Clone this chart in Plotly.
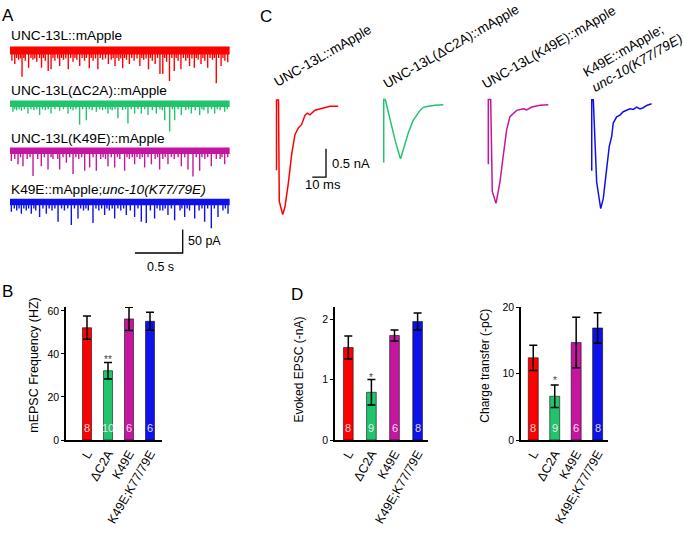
import plotly.graph_objects as go

W, H = 685, 533
FONT = "Liberation Sans, Arial, sans-serif"

# ---------------- DATA ----------------
categories = ["L", "ΔC2A", "K49E", "K49E;K77/79E"]
colors = ["#FF0000", "#21C46C", "#C4169F", "#0E12E8"]

mepsc_freq = [52.2, 32.2, 56.3, 55.2]
mepsc_freq_err = [5.4, 3.8, 5.4, 4.2]
mepsc_n = [8, 10, 6, 6]
mepsc_sig = ["", "**", "", ""]

evoked_amp = [1.53, 0.79, 1.73, 1.96]
evoked_amp_err = [0.19, 0.21, 0.09, 0.14]
evoked_n = [8, 9, 6, 8]
evoked_sig = ["", "*", "", ""]

charge = [12.4, 6.6, 14.7, 16.9]
charge_err = [1.9, 1.7, 3.8, 2.3]
charge_n = [8, 9, 6, 8]
charge_sig = ["", "*", "", ""]

# Panel A: mEPSC traces (event times in s, event depths in pA below baseline)
trace_labels = ["UNC-13L::mApple", "UNC-13L(ΔC2A)::mApple",
                "UNC-13L(K49E)::mApple", "K49E::mApple;<i>unc-10(K77/79E)</i>"]
recording_s = 2.30

red_t = [0.02, 0.05, 0.07, 0.09, 0.11, 0.126, 0.145, 0.16, 0.195, 0.22, 0.24, 0.26, 0.28, 0.31,
         0.33, 0.35, 0.37, 0.40, 0.43, 0.45, 0.47, 0.50, 0.52, 0.54, 0.56, 0.585, 0.61, 0.635,
         0.66, 0.68, 0.70, 0.73, 0.755, 0.78, 0.80, 0.83, 0.85, 0.87, 0.895, 0.92, 0.945, 0.97,
         1.0, 1.03, 1.06, 1.08, 1.10, 1.12, 1.14, 1.16, 1.18, 1.20, 1.22, 1.25, 1.275, 1.30,
         1.33, 1.36, 1.38, 1.40, 1.425, 1.45, 1.47, 1.49, 1.52, 1.545, 1.57, 1.60, 1.62, 1.64,
         1.67, 1.695, 1.72, 1.74, 1.76, 1.79, 1.815, 1.84, 1.86, 1.88, 1.905, 1.93, 1.95, 1.97,
         2.00, 2.02, 2.04, 2.07, 2.095, 2.12, 2.14, 2.16, 2.185, 2.21, 2.23, 2.25, 2.28]
red_d = [22, 29, 16, 20, 17, 56, 16, 22, 37, 16, 20, 17, 24, 16,
         37, 16, 22, 44, 40, 16, 22, 17, 33, 16, 20, 17, 40, 16,
         24, 16, 20, 33, 16, 22, 16, 38, 16, 22, 17, 40, 16, 20,
         17, 29, 20, 16, 33, 16, 22, 17, 38, 16, 20, 29, 16, 22,
         17, 33, 16, 20, 17, 40, 16, 22, 29, 16, 50, 50, 16, 24,
         65, 16, 44, 16, 22, 40, 16, 22, 16, 33, 17, 37, 16, 20,
         29, 16, 22, 37, 16, 20, 16, 70, 16, 33, 16, 22, 25]

green_t = [0.031, 0.05, 0.07, 0.095, 0.119, 0.15, 0.188, 0.22, 0.25, 0.28, 0.31, 0.34, 0.37,
           0.40, 0.43, 0.47, 0.52, 0.56, 0.607, 0.635, 0.66, 0.69, 0.729, 0.76, 0.799, 0.83,
           0.86, 0.904, 0.94, 0.97, 1.0, 1.026, 1.05, 1.07, 1.10, 1.13, 1.18, 1.21, 1.235, 1.27,
           1.305, 1.34, 1.375, 1.41, 1.445, 1.49, 1.532, 1.57, 1.595, 1.62, 1.672, 1.70, 1.724,
           1.76, 1.794, 1.84, 1.87, 1.899, 1.94, 1.986, 2.01, 2.03, 2.073, 2.11, 2.143, 2.17,
           2.20, 2.248, 2.275]
green_d = [17, 12, 14, 12, 15, 12, 21, 12, 14, 12, 24, 12, 14,
           12, 21, 12, 15, 12, 21, 12, 14, 12, 45, 12, 35, 12,
           14, 17, 12, 14, 12, 21, 12, 14, 12, 31, 14, 12, 42, 12,
           21, 12, 21, 12, 24, 14, 21, 12, 14, 35, 59, 12, 35,
           12, 24, 14, 12, 21, 14, 24, 12, 14, 21, 12, 21, 12,
           14, 17, 12]

magenta_t = [0.014, 0.05, 0.084, 0.11, 0.136, 0.18, 0.21, 0.241, 0.29, 0.328, 0.36, 0.398,
             0.43, 0.45, 0.50, 0.52, 0.555, 0.59, 0.625, 0.66, 0.69, 0.72, 0.75, 0.782, 0.834,
             0.87, 0.904, 0.95, 0.975, 1.00, 1.026, 1.06, 1.096, 1.125, 1.15, 1.20, 1.225, 1.25,
             1.28, 1.305, 1.33, 1.36, 1.385, 1.41, 1.445, 1.48, 1.52, 1.545, 1.567, 1.60, 1.625,
             1.654, 1.69, 1.72, 1.76, 1.794, 1.83, 1.864, 1.916, 1.95, 1.986, 2.01, 2.04, 2.07,
             2.108, 2.16, 2.20, 2.22, 2.248, 2.28]
magenta_d = [22, 18, 29, 14, 33, 18, 14, 54, 18, 33, 14, 40,
             14, 18, 18, 40, 14, 26, 14, 50, 14, 18, 14, 43, 36,
             14, 43, 18, 14, 18, 33, 14, 36, 14, 18, 43, 14, 18,
             14, 29, 14, 18, 14, 36, 14, 29, 18, 14, 40, 18, 14,
             29, 14, 18, 14, 33, 14, 40, 55, 14, 43, 14, 18, 14,
             33, 18, 18, 14, 29, 14]

blue_t = [0.014, 0.045, 0.07, 0.095, 0.119, 0.145, 0.17, 0.195, 0.223, 0.25, 0.27, 0.31, 0.345,
          0.38, 0.41, 0.44, 0.47, 0.503, 0.54, 0.57, 0.605, 0.642, 0.675, 0.712, 0.74, 0.77,
          0.795, 0.82, 0.869, 0.90, 0.93, 0.96, 0.991, 1.015, 1.04, 1.07, 1.096, 1.13, 1.16,
          1.19, 1.218, 1.26, 1.305, 1.34, 1.375, 1.427, 1.47, 1.514, 1.54, 1.57, 1.60, 1.625,
          1.654, 1.69, 1.724, 1.78, 1.80, 1.829, 1.855, 1.88, 1.934, 1.98, 2.01, 2.038, 2.07,
          2.108, 2.14, 2.178, 2.23, 2.255, 2.283]
blue_d = [21, 14, 18, 14, 25, 14, 18, 14, 25, 14, 18, 32, 14,
          25, 14, 18, 14, 42, 14, 18, 14, 49, 14, 35, 14, 18,
          14, 18, 45, 14, 18, 14, 28, 14, 18, 14, 35, 14, 18,
          14, 28, 18, 32, 14, 42, 45, 18, 35, 14, 18, 18, 14,
          28, 14, 39, 18, 14, 32, 14, 18, 35, 18, 14, 42, 14,
          56, 14, 32, 18, 14, 25]

# Panel C: evoked EPSC traces (time in ms from stimulus, current in nA)
evo_red_t = [-0.36, -0.36, 1.09, 1.68, 4.16, 5.84, 8.25, 10.7, 13.1, 15.6, 18.0, 20.4, 22.1,
             24.1, 27.7, 33.8, 38.7, 44.7]
evo_red_i = [-1.14, 0.10, 0.10, -1.69, -1.92, -1.78, -1.37, -0.86, -0.51, -0.39, -0.33, -0.17,
             -0.13, -0.16, -0.08, -0.04, -0.01, -0.01]
evo_green_t = [-0.2, -0.2, 0.95, 4.38, 8.03, 11.7, 12.2, 14.1, 17.7, 21.4, 26.3, 28.5, 31.2,
               37.2, 43.3]
evo_green_i = [-1.02, 0.09, 0.09, -0.27, -0.62, -0.93, -0.95, -0.79, -0.50, -0.27, -0.10,
               -0.05, -0.03, -0.01, 0.0]
evo_magenta_t = [-0.5, -0.5, 1.24, 2.4, 5.1, 8.0, 10.4, 12.9, 15.3, 20.2, 25.0, 27.5, 31.2,
                 37.2, 43.3]
evo_magenta_i = [-1.05, 0.09, 0.09, -1.53, -1.74, -1.36, -0.90, -0.44, -0.21, -0.10, -0.07,
                 -0.09, -0.04, -0.01, 0.0]
evo_blue_t = [-0.2, -0.2, 0.95, 3.4, 6.35, 8.25, 10.7, 12.6, 14.4, 15.5, 18.0, 20.4, 22.8,
              25.3, 27.7, 30.1, 32.6, 35.0, 37.4, 39.9, 43.5]
evo_blue_i = [-1.18, 0.07, 0.07, -1.38, -1.85, -1.67, -1.15, -0.75, -0.57, -0.34, -0.23, -0.20,
              -0.14, -0.12, -0.09, -0.10, -0.06, -0.09, -0.07, -0.03, 0.0]

evoked_labels = ["UNC-13L::mApple", "UNC-13L(ΔC2A)::mApple", "UNC-13L(K49E)::mApple",
                 "K49E::mApple;<br><i>unc-10(K77/79E)</i>"]

scale_A_time_s, scale_A_amp_pA = 0.5, 50
scale_C_time_ms, scale_C_amp_nA = 10, 0.5

# ---------------- LAYOUT HELPERS ----------------
def fx(p):
    return p / W


def fy(p):
    return 1 - p / H


fig = go.Figure()
annotations = []


def ann(text, px, py, size=12.5, xanchor="left", yanchor="middle", angle=0, color="#000000",
        align="left", xref="paper", yref="paper", x=None, y=None):
    annotations.append(dict(
        text=text, x=fx(px) if x is None else x, y=fy(py) if y is None else y,
        xref=xref, yref=yref, xanchor=xanchor, yanchor=yanchor, showarrow=False,
        textangle=angle, align=align, borderpad=0,
        font=dict(family=FONT, size=size, color=color)))


# ---------------- PANEL A ----------------
A_px_per_s, A_px_per_pA = 95.5, 0.48
A_x0, A_y0 = 10, 30
A_bases_px = [45.5, 100, 148, 200.5]
A_events = [(red_t, red_d), (green_t, green_d), (magenta_t, magenta_d), (blue_t, blue_d)]
A_band = [8, 6.5, 6.5, 6.5]
for k, ((ts, ds), c) in enumerate(zip(A_events, colors)):
    base = -(A_bases_px[k] - A_y0) / A_px_per_pA
    fig.add_trace(go.Scatter(x=[0, recording_s], y=[base, base], mode="lines",
                             line=dict(color=c, width=A_band[k]), xaxis="x", yaxis="y",
                             showlegend=False, hoverinfo="skip"))
    xs, ys = [], []
    for t, d in zip(ts, ds):
        xs += [t, t, None]
        ys += [base, base - d, None]
    fig.add_trace(go.Scatter(x=xs, y=ys, mode="lines", line=dict(color=c, width=1.4),
                             xaxis="x", yaxis="y", showlegend=False, hoverinfo="skip"))

sbA_t = (182.7 - A_x0) / A_px_per_s
sbA_y = -(252.7 - A_y0) / A_px_per_pA
fig.add_trace(go.Scatter(x=[sbA_t - scale_A_time_s, sbA_t, sbA_t],
                         y=[sbA_y, sbA_y, sbA_y + scale_A_amp_pA], mode="lines",
                         line=dict(color="black", width=1.3), xaxis="x", yaxis="y",
                         showlegend=False, hoverinfo="skip"))
ann(f"{scale_A_amp_pA} pA", 186.5, 240, size=12.5)
ann(f"{scale_A_time_s} s", 160, 267.5, size=12.5, xanchor="center")

for lab, ypx in zip(trace_labels, [30, 86.5, 135.5, 188]):
    ann(lab, 10, ypx, size=13.7)

# ---------------- PANEL C ----------------
C_px_per_ms, C_px_per_nA = 1.37, 58
C_x0, C_base = 277, 102
evo = [(evo_red_t, evo_red_i), (evo_green_t, evo_green_i),
       (evo_magenta_t, evo_magenta_i), (evo_blue_t, evo_blue_i)]
C_art_px = [277, 384, 489, 592]
C_base_px = [102, 101, 101, 100]
for k, ((ts, cs), c) in enumerate(zip(evo, colors)):
    toff = (C_art_px[k] - C_x0) / C_px_per_ms
    ioff = (C_base - C_base_px[k]) / C_px_per_nA
    fig.add_trace(go.Scatter(x=[t + toff for t in ts], y=[v + ioff for v in cs], mode="lines",
                             line=dict(color=c, width=1.5), xaxis="x2", yaxis="y2",
                             showlegend=False, hoverinfo="skip"))
sbC_t = (326 - C_x0) / C_px_per_ms
sbC_y = (C_base - 175) / C_px_per_nA
fig.add_trace(go.Scatter(x=[sbC_t - scale_C_time_ms, sbC_t, sbC_t],
                         y=[sbC_y, sbC_y, sbC_y + scale_C_amp_nA], mode="lines",
                         line=dict(color="black", width=1.3), xaxis="x2", yaxis="y2",
                         showlegend=False, hoverinfo="skip"))
ann(f"{scale_C_amp_nA} nA", 331, 161.5, size=13)
ann(f"{scale_C_time_ms} ms", 322.5, 183, size=13, xanchor="center")

for lab, (cx, cy) in zip(evoked_labels, [(323, 51), (451, 41), (548.5, 42), (633, 51)]):
    ann(lab, cx, cy, size=13.5, xanchor="center", angle=-30, align="left")

# ---------------- BAR PANELS ----------------
bar_specs = [
    # xa, ya, vals, errs, ns, sig, x-domain px, x-range, y-range, ticks, width, sig-y px
    ("x3", "y3", mepsc_freq, mepsc_freq_err, mepsc_n, mepsc_sig, (66, 162), (-1, 3.571),
     (0, 61.8), [0, 20, 40, 60], 0.43, 362),
    ("x4", "y4", evoked_amp, evoked_amp_err, evoked_n, evoked_sig, (335, 428), (-0.576, 3.45),
     (0, 2.2), [0, 1, 2], 0.42, 380),
    ("x5", "y5", charge, charge_err, charge_n, charge_sig, (521, 607.7), (-0.572, 3.47),
     (0, 20.05), [0, 10, 20], 0.465, 383),
]
axes_layout = {}
for i, (xa, ya, vals, errs, ns, sig, xdom, xr, yr, tv, bw, sigy) in enumerate(bar_specs):
    fig.add_trace(go.Bar(
        x=list(range(len(categories))), y=vals, width=bw, xaxis=xa, yaxis=ya,
        marker=dict(color=colors, line=dict(color="rgba(0,0,0,0.55)", width=1)),
        error_y=dict(type="data", array=errs, color="black", thickness=1.5, width=4),
        showlegend=False, hoverinfo="skip"))
    n = xa[1:]
    axes_layout[f"xaxis{n}"] = dict(
        domain=[fx(xdom[0]), fx(xdom[1])], range=list(xr), anchor=ya,
        showline=True, linecolor="black", linewidth=1.5, showgrid=False, zeroline=False,
        tickvals=list(range(len(categories))), ticktext=categories, tickangle=-60,
        ticks="", tickfont=dict(family=FONT, size=12.5, color="black"), fixedrange=True)
    axes_layout[f"yaxis{n}"] = dict(
        domain=[fy(444), fy(308)], range=list(yr), anchor=xa,
        showline=True, linecolor="black", linewidth=1.5, showgrid=False, zeroline=False,
        tickvals=tv, ticks="outside", ticklen=3, tickwidth=1.2, tickcolor="black",
        tickfont=dict(family=FONT, size=10.5, color="black"), fixedrange=True)
    for j, (nn, s) in enumerate(zip(ns, sig)):
        ann(str(nn), 0, 432, size=11, xanchor="center", color="rgba(255,240,245,0.9)",
            xref=xa, x=j)
        if s:
            ann(s, 0, sigy, size=10, xanchor="center", color="#444444", xref=xa, x=j)

ann("mEPSC Frequency (HZ)", 34, 368, size=12.5, xanchor="center", angle=-90)
ann("Evoked EPSC (-nA)", 299, 372, size=12, xanchor="center", angle=-90)
ann("Charge transfer (-pC)", 485, 368, size=12, xanchor="center", angle=-90)

# panel letters
ann("A", 7.5, 9.5, size=17, xanchor="center")
ann("B", 7.5, 292.5, size=17, xanchor="center")
ann("C", 266, 10.5, size=17, xanchor="center")
ann("D", 297, 295, size=17, xanchor="center")

fig.update_layout(
    width=W, height=H, margin=dict(l=0, r=0, t=0, b=0),
    paper_bgcolor="white", plot_bgcolor="white", hovermode=False,
    font=dict(family=FONT, color="black"),
    xaxis=dict(domain=[fx(0), fx(240)], range=[(0 - A_x0) / A_px_per_s, (240 - A_x0) / A_px_per_s],
               visible=False, anchor="y"),
    yaxis=dict(domain=[fy(262), fy(30)], range=[-(262 - A_y0) / A_px_per_pA, 0],
               visible=False, anchor="x"),
    xaxis2=dict(domain=[fx(260), fx(685)],
                range=[(260 - C_x0) / C_px_per_ms, (685 - C_x0) / C_px_per_ms],
                visible=False, anchor="y2"),
    yaxis2=dict(domain=[fy(230), fy(88)],
                range=[(C_base - 230) / C_px_per_nA, (C_base - 88) / C_px_per_nA],
                visible=False, anchor="x2"),
    annotations=annotations,
    **axes_layout,
)

fig.write_html("out.html", config={"displayModeBar": False},
               post_script="document.body.style.margin='0px';document.body.style.overflow='hidden';")
